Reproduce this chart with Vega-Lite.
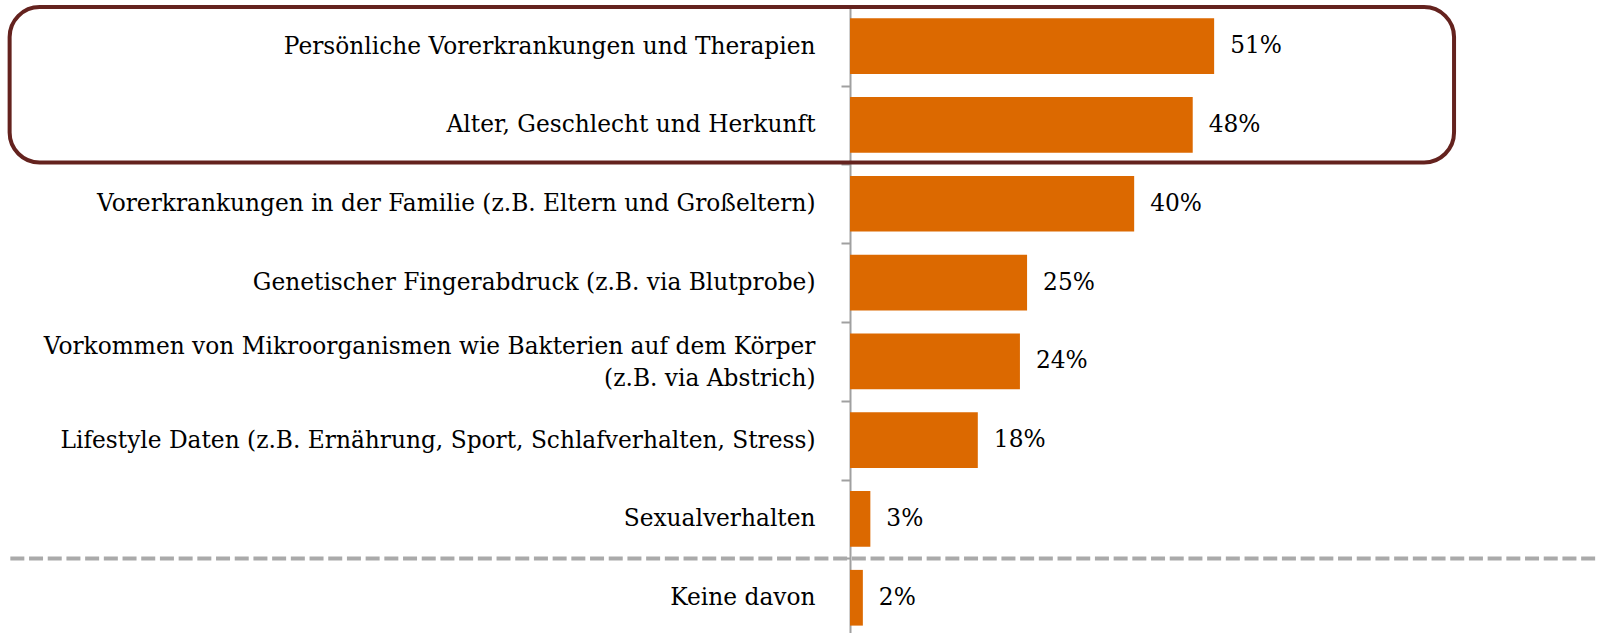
{
  "$schema": "https://vega.github.io/schema/vega-lite/v6.json",
  "autosize": {"type": "none"},
  "padding": {"left": 850, "top": 7, "right": 34, "bottom": 0},
  "width": 714,
  "height": 626,
  "background": "#ffffff",
  "config": {"view": {"stroke": null}},
  "datasets": {
    "bars": [
      {"category": "Persönliche Vorerkrankungen und Therapien", "value": 51.0, "label": "51%"},
      {"category": "Alter, Geschlecht und Herkunft", "value": 48.0, "label": "48%"},
      {"category": "Vorerkrankungen in der Familie (z.B. Eltern und Großeltern)", "value": 39.8, "label": "40%"},
      {"category": "Genetischer Fingerabdruck (z.B. via Blutprobe)", "value": 24.8, "label": "25%"},
      {"category": "Vorkommen von Mikroorganismen wie Bakterien auf dem Körper (z.B. via Abstrich)", "value": 23.8, "label": "24%"},
      {"category": "Lifestyle Daten (z.B. Ernährung, Sport, Schlafverhalten, Stress)", "value": 17.9, "label": "18%"},
      {"category": "Sexualverhalten", "value": 2.85, "label": "3%"},
      {"category": "Keine davon", "value": 1.8, "label": "2%"}
    ],
    "box": [{"x": -117.7, "x2": 84.6, "y": 0.0025, "y2": 1.976}],
    "divider": [{"x": -117.6, "x2": 104.8, "y": 7}]
  },
  "layer": [
    {
      "data": {"name": "bars"},
      "encoding": {
        "y": {
          "field": "category",
          "type": "nominal",
          "sort": null,
          "scale": {"paddingInner": 0.293, "paddingOuter": 0.1185, "align": 0.604},
          "axis": {
            "title": null,
            "labelFont": "DejaVu Serif",
            "labelFontSize": 23.3,
            "labelColor": "#000000",
            "labelLimit": 0,
            "labelPadding": 26,
            "labelLineHeight": 31.6,
            "tickSize": 9,
            "tickWidth": 2,
            "tickColor": "#A0A0A0",
            "domainColor": "#A0A0A0",
            "domainWidth": 2,
            "tickOffset": 39.4,
            "labelOffset": {"condition": {"test": "datum.value == 'Vorkommen von Mikroorganismen wie Bakterien auf dem Körper (z.B. via Abstrich)'", "value": -54.2}, "value": -39.4},
            "labelExpr": "datum.value == 'Vorkommen von Mikroorganismen wie Bakterien auf dem Körper (z.B. via Abstrich)' ? ['Vorkommen von Mikroorganismen wie Bakterien auf dem Körper', '(z.B. via Abstrich)'] : datum.label"
          }
        },
        "x": {
          "field": "value",
          "type": "quantitative",
          "scale": {"domain": [0, 100], "nice": false},
          "axis": null
        }
      },
      "layer": [
        {"mark": {"type": "bar", "color": "#DC6900"}},
        {
          "mark": {"type": "text", "align": "left", "baseline": "middle", "dx": 16, "font": "DejaVu Serif", "fontSize": 23.3, "color": "#000000"},
          "encoding": {"text": {"field": "label"}}
        }
      ]
    },
    {
      "layer": [
        {
          "data": {"name": "box"},
          "mark": {"type": "rect", "fill": null, "filled": false, "stroke": "#64221E", "strokeWidth": 4, "cornerRadius": 30},
          "encoding": {
            "x": {"field": "x", "type": "quantitative", "scale": {"domain": [0, 100], "nice": false}, "axis": null},
            "x2": {"field": "x2"},
            "y": {"field": "y", "type": "quantitative", "scale": {"domain": [0.0025, 7.947], "nice": false, "zero": false, "reverse": true}, "axis": null},
            "y2": {"field": "y2"}
          }
        },
        {
          "data": {"name": "divider"},
          "mark": {"type": "rule", "stroke": "#AAAAAA", "strokeWidth": 4, "strokeDash": [14, 4.7]},
          "encoding": {
            "x": {"field": "x", "type": "quantitative", "scale": {"domain": [0, 100], "nice": false}, "axis": null},
            "x2": {"field": "x2"},
            "y": {"field": "y", "type": "quantitative", "scale": {"domain": [0.0025, 7.947], "nice": false, "zero": false, "reverse": true}, "axis": null}
          }
        }
      ]
    }
  ],
  "resolve": {"scale": {"y": "independent"}, "axis": {"y": "independent"}}
}
